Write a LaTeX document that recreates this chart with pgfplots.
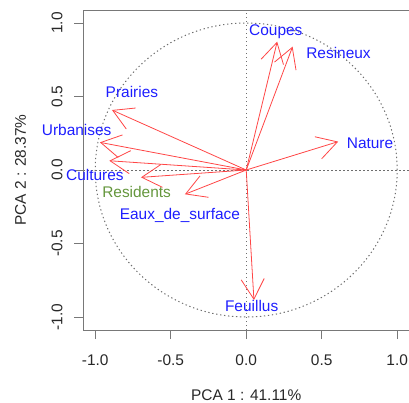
\documentclass[border=0pt]{standalone}
\usepackage{pgfplots}
\pgfplotsset{compat=1.18}
\usepackage{pgfplotstable}
\usepackage{fontspec}
\setmainfont{Liberation Sans}
\usetikzlibrary{arrows.meta}
\definecolor{arr}{RGB}{255,70,70}
\definecolor{lblue}{RGB}{30,30,255}
\definecolor{lgreen}{RGB}{100,150,60}
\definecolor{boxc}{RGB}{120,120,120}
\definecolor{dotc}{RGB}{110,110,110}
\definecolor{txt}{RGB}{40,40,40}
\pgfplotstableread{
name u v
Prairies -0.889 0.408
Urbanises -0.969 0.188
Cultures -0.907 0.063
Residents -0.697 -0.050
Eaux_de_surface -0.406 -0.165
Coupes 0.205 0.873
Resineux 0.307 0.839
Nature 0.609 0.193
Feuillus 0.051 -0.884
}\vars
\newcommand{\lf}{\fontsize{15.5}{18}\selectfont}
\begin{document}
\begin{tikzpicture}
\begin{axis}[
 scale only axis, width=325.7bp, height=319.3bp,
 xmin=-1.079, xmax=1.078, ymin=-1.0884, ymax=1.0837,
 axis line style={draw=none},
 xtick={-1,-0.5,0,0.5,1}, ytick={-1,-0.5,0,0.5,1},
 xticklabels={-1.0,-0.5,0.0,0.5,1.0}, yticklabels={-1.0,-0.5,0.0,0.5,1.0},
 xtick pos=lower, ytick pos=left,
 tick align=outside, major tick length=9bp,
 tick style={boxc, line width=0.9bp},
 ticklabel style={font=\lf, text=txt},
 xticklabel style={anchor=base, yshift=-26bp},
 yticklabel style={xshift=-12bp, rotate=90, anchor=base},
 clip=false,
 /pgf/number format/assume math mode=true,
]
\draw[dotc, line width=1bp, dash pattern=on 1.3bp off 2.7bp] (axis cs:0,0) ellipse [x radius=1, y radius=1];
\draw[dotc, line width=1bp, dash pattern=on 1.3bp off 2.7bp] (rel axis cs:0,0.5) -- (rel axis cs:1,0.5);
\draw[dotc, line width=1bp, dash pattern=on 1.3bp off 2.7bp] (axis cs:0,-1.0884) -- (axis cs:0,1.0837);
\draw[boxc, line width=1bp] (rel axis cs:1,1) -- (rel axis cs:0,1) -- (rel axis cs:0,0) -- (rel axis cs:1,0);
\addplot[arr, line width=0.8bp, no markers, -{Straight Barb[length=20bp,width=23bp]},
  quiver={u=\thisrow{u}, v=\thisrow{v}}] table[x expr=0, y expr=0] {\vars};
\node[lblue, font=\lf, anchor=base] at (axis cs:-0.757,0.492) {Prairies};
\node[lblue, font=\lf, anchor=base] at (axis cs:-1.123,0.233) {Urbanises};
\node[lblue, font=\lf, anchor=base] at (axis cs:-1.002,-0.073) {Cultures};
\node[lgreen, font=\lf, anchor=base] at (axis cs:-0.726,-0.186) {Residents};
\node[lblue, font=\lf, anchor=base] at (axis cs:-0.439,-0.336) {Eaux\_de\_surface};
\node[lblue, font=\lf, anchor=base] at (axis cs:0.196,0.918) {Coupes};
\node[lblue, font=\lf, anchor=base] at (axis cs:0.611,0.760) {Resineux};
\node[lblue, font=\lf, anchor=base] at (axis cs:0.820,0.143) {Nature};
\node[lblue, font=\lf, anchor=base] at (axis cs:0.036,-0.964) {Feuillus};
\node[txt, font=\lf, anchor=base] at (axis cs:0,-1.565) {PCA 1 : 41.11\%};
\node[txt, font=\lf, anchor=base, rotate=90] at (axis cs:-1.459,0) {PCA 2 : 28.37\%};
\coordinate (bl) at (rel axis cs:0,0);
\end{axis}
\pgfresetboundingbox
\path[use as bounding box] ([shift={(-83.3bp,-73bp)}]bl) rectangle ([shift={(325.7bp,330bp)}]bl);
\end{tikzpicture}
\end{document}
